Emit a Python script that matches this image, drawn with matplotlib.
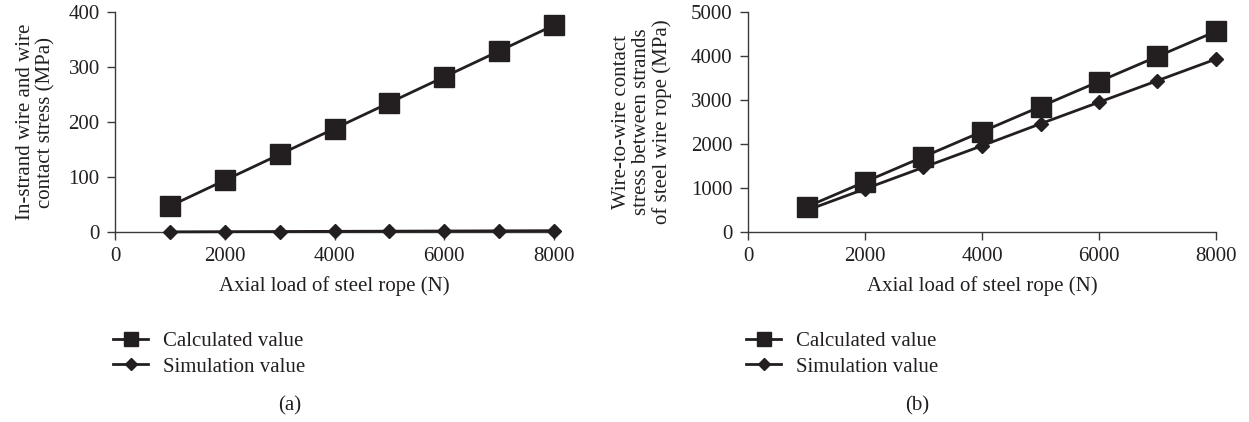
import numpy as np
import matplotlib.pyplot as plt

plt.rcParams['font.family'] = ['Liberation Serif', 'DejaVu Serif']
plt.rcParams['font.size'] = 15

# data
load = [1000, 2000, 3000, 4000, 5000, 6000, 7000, 8000]

calc_a = [47, 94, 141, 188, 235, 282, 329, 376]
sim_a = [0.3, 0.6, 0.9, 1.2, 1.5, 1.8, 2.1, 2.4]

calc_b = [570, 1140, 1710, 2280, 2850, 3420, 3990, 4560]
sim_b = [490, 980, 1470, 1960, 2460, 2950, 3440, 3930]

xticks = [0, 2000, 4000, 6000, 8000]
yticks_a = [0, 100, 200, 300, 400]
yticks_b = [0, 1000, 2000, 3000, 4000, 5000]

ylabel_a = 'In-strand wire and wire\ncontact stress (MPa)'
ylabel_b = 'Wire-to-wire contact\nstress between strands\nof steel wire rope (MPa)'
xlabel = 'Axial load of steel rope (N)'
legend_labels = ['Calculated value', 'Simulation value']

ink = '#231f20'
W, H = 1249, 422
fs = 15

fig = plt.figure(figsize=(W / 100, H / 100), dpi=100)


def make_panel(rect, calc, sim, yticks, ylabel, tag, ylab_x, leg_x, tag_x):
    ax = fig.add_axes(rect)
    ax.plot(load, calc, color=ink, lw=2, marker='s', ms=14, mfc=ink, mec=ink,
            label=legend_labels[0], clip_on=False, zorder=3)
    ax.plot(load, sim, color=ink, lw=2, marker='D', ms=7.5, mfc=ink, mec=ink,
            label=legend_labels[1], clip_on=False, zorder=3)
    ax.set_xlim(0, 8000)
    ax.set_ylim(yticks[0], yticks[-1])
    ax.set_xticks(xticks)
    ax.set_yticks(yticks)
    for s in ['top', 'right']:
        ax.spines[s].set_visible(False)
    for s in ['left', 'bottom']:
        ax.spines[s].set_color('#3a3a3a')
        ax.spines[s].set_linewidth(1.0)
    ax.tick_params(direction='out', length=6, width=1.0, color='#3a3a3a',
                   labelcolor=ink, labelsize=fs, pad=5)
    ax.set_xlabel(xlabel, color=ink, fontsize=fs, labelpad=7)
    fig.text(ylab_x / W, 1 - 122 / H, ylabel, rotation=90, ha='center', va='center',
             multialignment='center', color=ink, fontsize=fs, linespacing=1.1)
    h, l = ax.get_legend_handles_labels()
    fig.legend(h, l, loc='center left', bbox_to_anchor=(leg_x / W, 1 - 354 / H),
               frameon=False, handlelength=1.7, handletextpad=0.7, labelspacing=0.3,
               markerscale=0.75, borderaxespad=0, borderpad=0, fontsize=fs,
               labelcolor=ink)
    fig.text(tag_x / W, 1 - 406 / H, tag, ha='center', va='center', color=ink,
             fontsize=fs)
    return ax


make_panel([115 / W, 1 - 232 / H, 439 / W, 220 / H], calc_a, sim_a, yticks_a,
           ylabel_a, '(a)', 36, 113, 290)
make_panel([748 / W, 1 - 232 / H, 468 / W, 220 / H], calc_b, sim_b, yticks_b,
           ylabel_b, '(b)', 642, 746, 917)

fig.savefig('out.png', dpi=100)
